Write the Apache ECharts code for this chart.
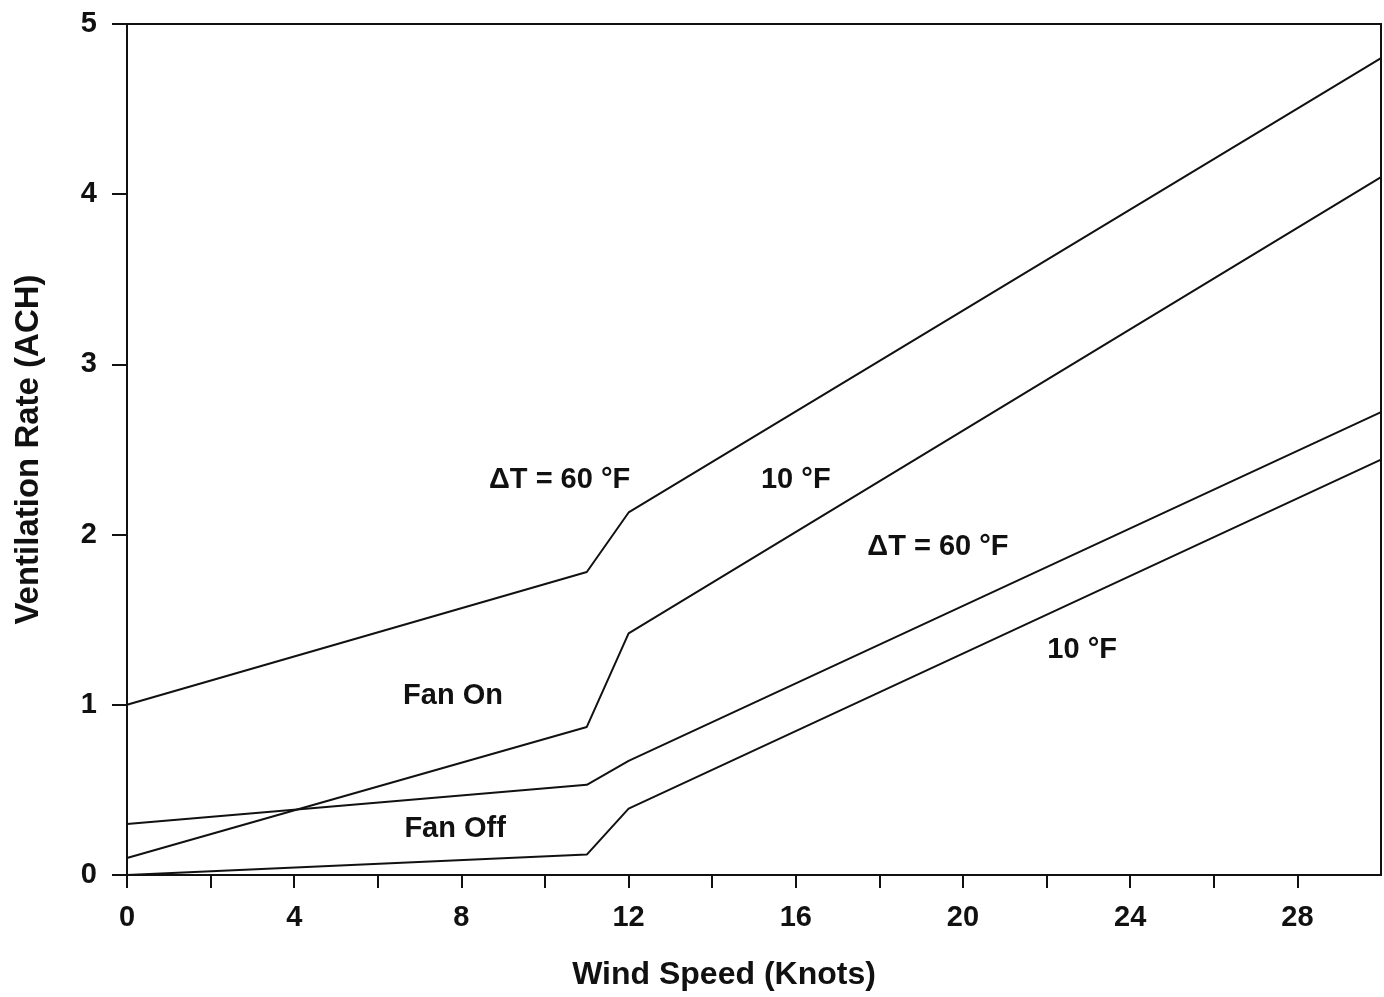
<!DOCTYPE html>
<html lang="en">
<head>
  <meta charset="UTF-8">
  <script src="https://cdn.jsdelivr.net/npm/echarts@6/dist/echarts.min.js"></script>
  <style>
    body { margin: 0; background: #fff; }
    #container { width: 1384px; height: 997px; }
  </style>
</head>
<body>
  <div id="container"></div>
  <script>
    // wind speed (knots) at each break point
    var windSpeed = [0, 11, 12, 30];
    // ventilation rate (ACH)
    var fanOn60 = [1.0, 1.78, 2.13, 4.8];
    var fanOn10 = [0.1, 0.87, 1.42, 4.1];
    var fanOff60 = [0.3, 0.53, 0.67, 2.72];
    var fanOff10 = [0.0, 0.12, 0.39, 2.44];

    // text notes placed in data coordinates
    var noteText = ['\u0394T = 60 \u00b0F', '10 \u00b0F', '\u0394T = 60 \u00b0F', '10 \u00b0F', 'Fan On', 'Fan Off'];
    var noteX = [10.35, 16.0, 19.4, 22.85, 7.8, 7.85];
    var noteY = [2.32, 2.32, 1.93, 1.32, 1.05, 0.27];

    var xTickLabels = ['0', '4', '8', '12', '16', '20', '24', '28'];

    var font = 'Liberation Sans, Arial, sans-serif';
    var myChart = echarts.init(document.getElementById('container'));

    function pairs(ys) {
      return windSpeed.map(function (x, i) { return [x, ys[i]]; });
    }

    function lineSeries(name, ys) {
      return {
        name: name,
        type: 'line',
        data: pairs(ys),
        symbol: 'none',
        silent: true,
        lineStyle: { color: '#111', width: 2 }
      };
    }

    var notes = noteText.map(function (t, i) {
      return { value: t, coord: [noteX[i], noteY[i]] };
    });

    var series = [
      lineSeries('fanOn60', fanOn60),
      lineSeries('fanOn10', fanOn10),
      lineSeries('fanOff60', fanOff60),
      lineSeries('fanOff10', fanOff10)
    ];
    series[0].markPoint = {
      symbol: 'circle',
      symbolSize: 0,
      silent: true,
      label: {
        show: true,
        position: 'inside',
        formatter: '{c}',
        color: '#111',
        fontFamily: font,
        fontWeight: 'bold',
        fontSize: 29
      },
      data: notes
    };

    var option = {
      animation: false,
      grid: {
        left: 127,
        right: 3,
        top: 24,
        bottom: 122,
        show: true,
        borderColor: '#111',
        borderWidth: 2
      },
      xAxis: {
        type: 'value',
        min: 0,
        max: 30,
        interval: 2,
        name: 'Wind Speed (Knots)',
        nameLocation: 'middle',
        nameGap: 84,
        nameTextStyle: { color: '#111', fontFamily: font, fontWeight: 'bold', fontSize: 32, padding: [0, 60, 0, 0] },
        axisLine: { lineStyle: { color: '#111', width: 2 } },
        axisTick: { length: 13, lineStyle: { color: '#111', width: 2 } },
        splitLine: { show: false },
        axisLabel: {
          color: '#111',
          fontFamily: font,
          fontWeight: 'bold',
          fontSize: 29,
          margin: 28,
          showMaxLabel: false,
          formatter: function (v) {
            var s = String(v);
            return xTickLabels.indexOf(s) >= 0 ? s : '';
          }
        }
      },
      yAxis: {
        type: 'value',
        min: 0,
        max: 5,
        interval: 1,
        name: 'Ventilation Rate (ACH)',
        nameLocation: 'middle',
        nameGap: 82,
        nameTextStyle: { color: '#111', fontFamily: font, fontWeight: 'bold', fontSize: 33 },
        axisLine: { show: true, lineStyle: { color: '#111', width: 2 } },
        axisTick: { show: true, length: 15, lineStyle: { color: '#111', width: 2 } },
        splitLine: { show: false },
        axisLabel: { color: '#111', fontFamily: font, fontWeight: 'bold', fontSize: 29, margin: 30 }
      },
      series: series
    };

    myChart.setOption(option);
  </script>
</body>
</html>
